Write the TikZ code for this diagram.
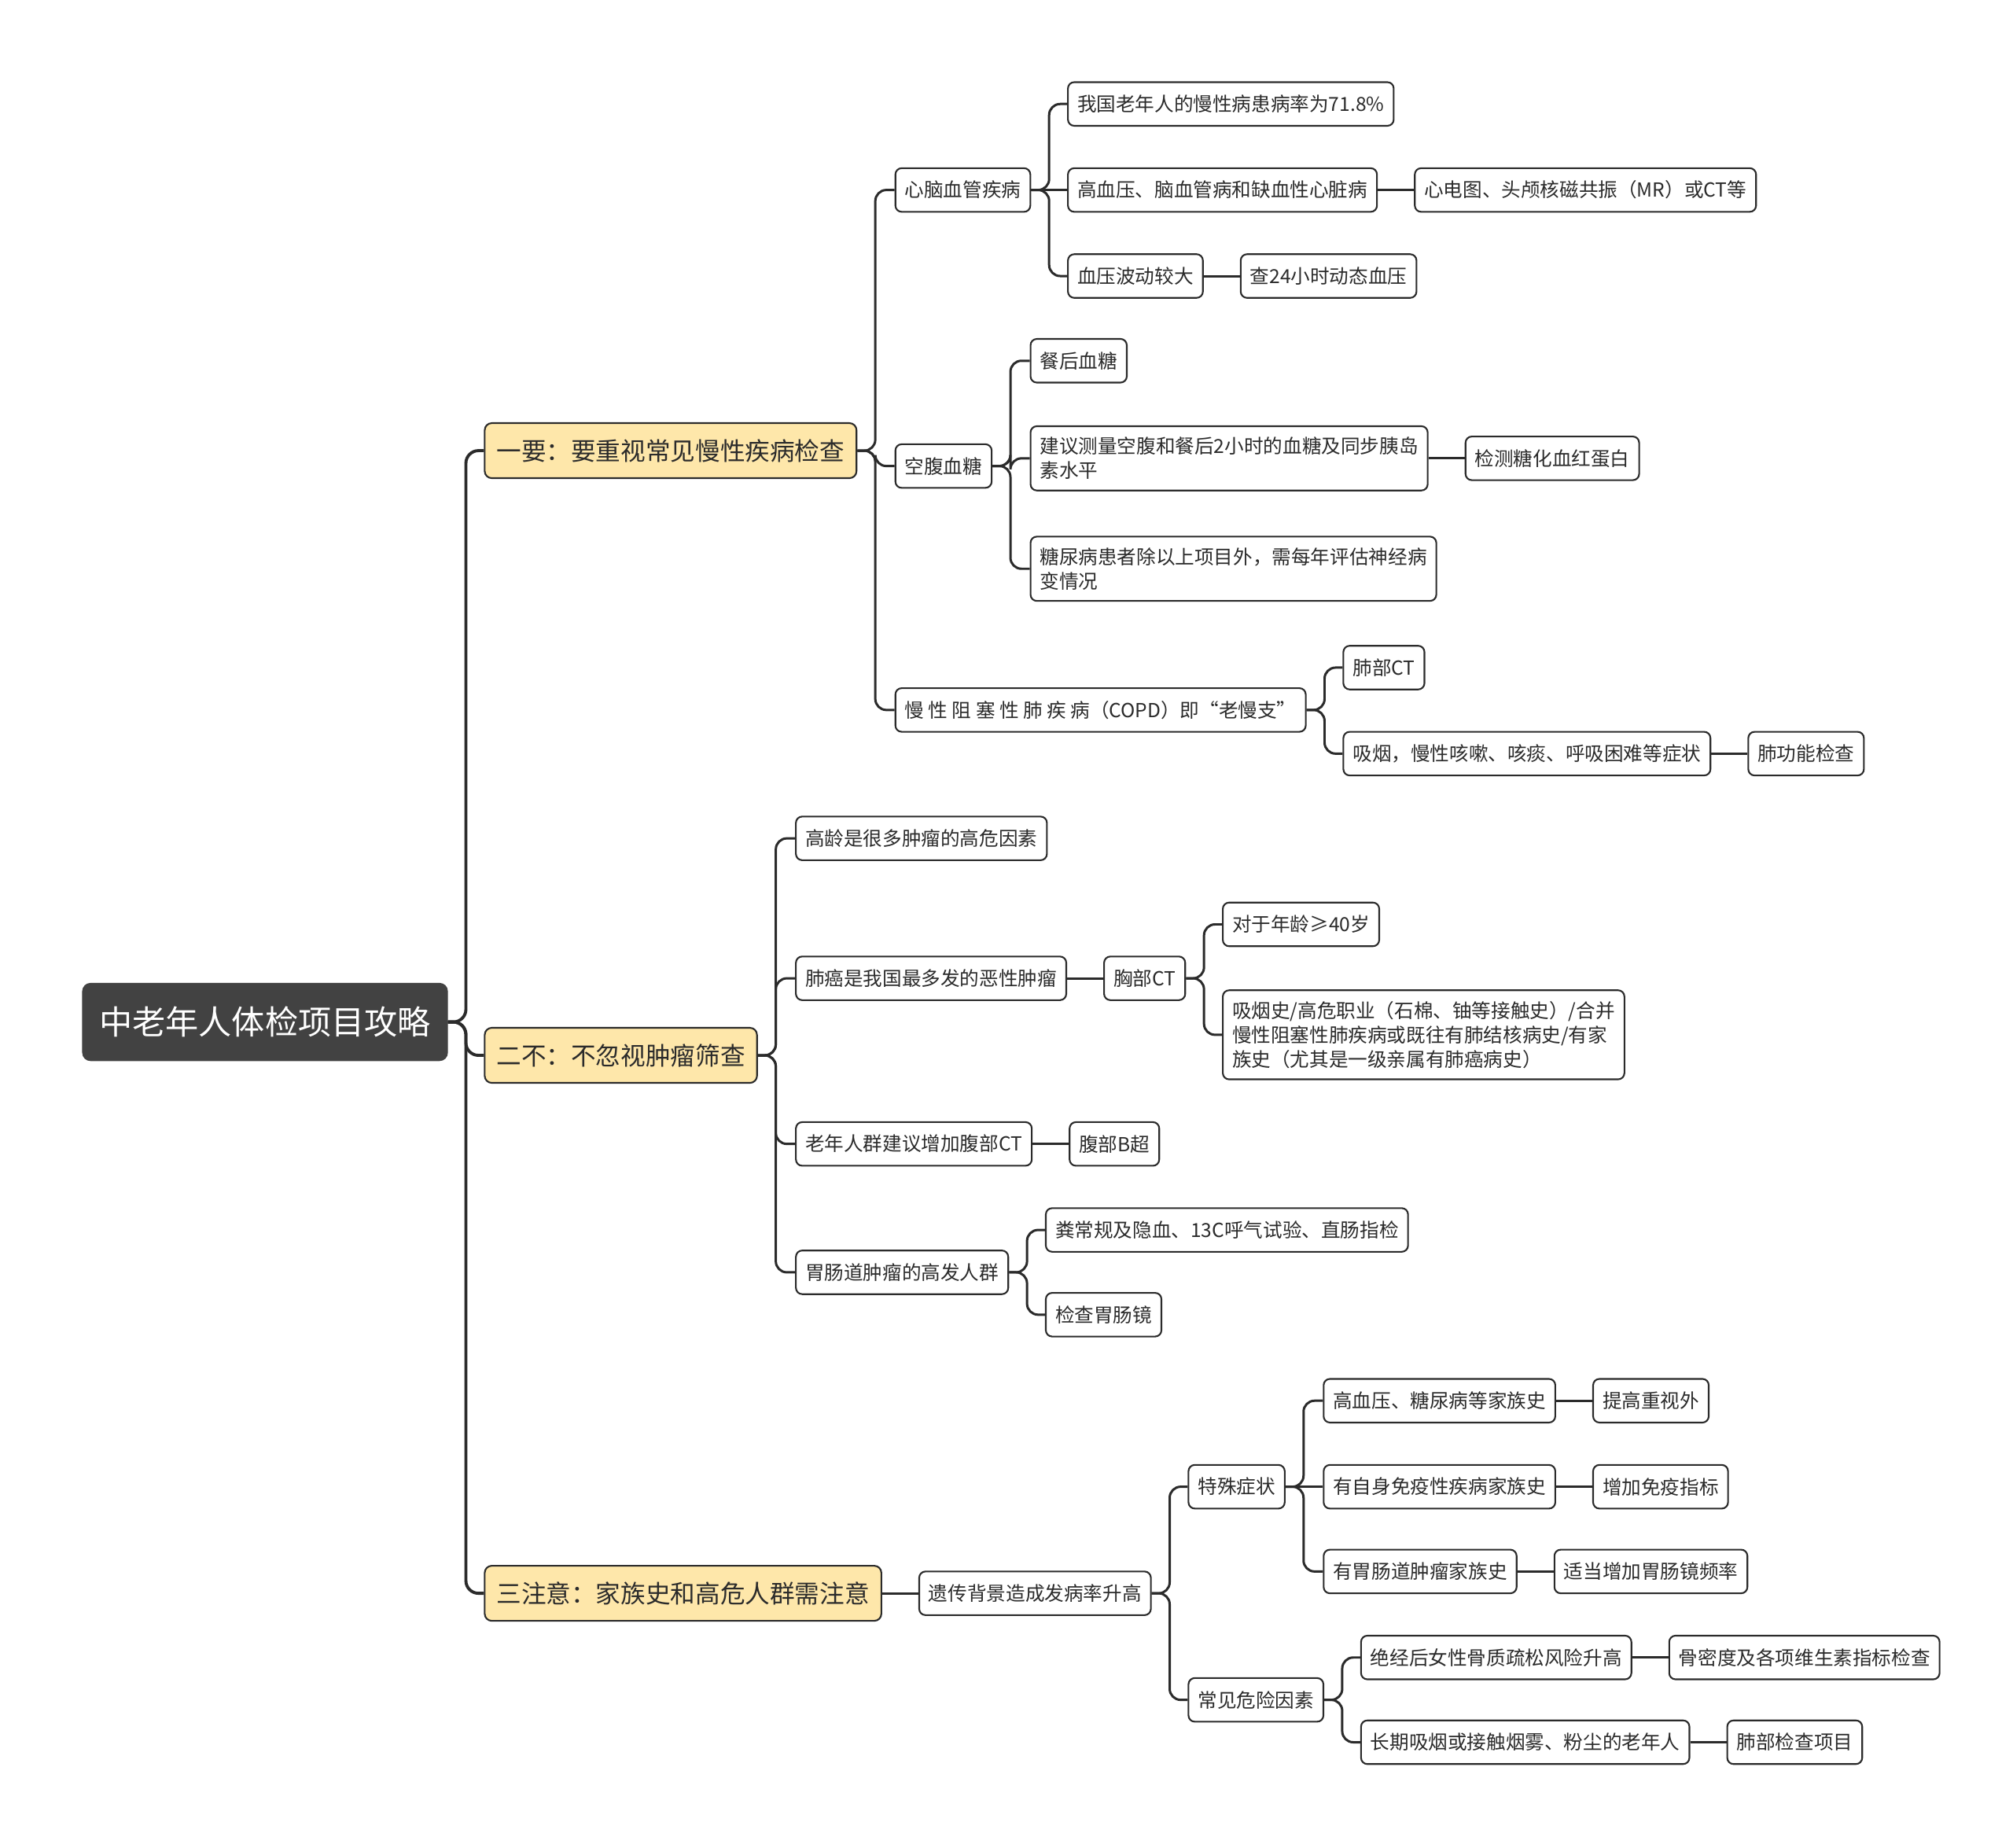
\documentclass[tikz,border=0pt]{standalone}
\usepackage{fontspec}
\setmainfont{Noto Sans CJK SC}
\usepackage{tikz}
\usetikzlibrary{positioning, calc}
\definecolor{ink}{HTML}{2B2B2B}
\definecolor{rootgrey}{HTML}{424242}
\definecolor{topicyellow}{HTML}{FEE7AA}

\begin{document}
\begin{tikzpicture}[
  x=0.016327cm, y=-0.016327cm,
  every node/.style={text=ink},
  rootbox/.style={
    fill=rootgrey,
    draw=rootgrey,
    rounded corners=0.1cm,
    text=white,
    font=\fontsize{12}{14}\selectfont,
    minimum height=0.98cm,
    inner xsep=0.21cm,
    anchor=west,
  },
  topic/.style={
    fill=topicyellow,
    draw=ink,
    line width=0.6pt,
    rounded corners=0.09cm,
    font=\fontsize{9}{11}\selectfont,
    minimum height=0.70cm,
    inner xsep=0.15cm,
    anchor=west,
  },
  item/.style={
    fill=white,
    draw=ink,
    line width=0.6pt,
    rounded corners=0.08cm,
    font=\fontsize{7}{8.8}\selectfont,
    minimum height=0.555cm,
    inner xsep=0.12cm,
    inner ysep=0.14cm,
    align=left,
    anchor=west,
  },
  trunk/.style={
    draw=ink,
    line width=1.1pt,
    rounded corners=0.16cm,
  },
  link/.style={
    draw=ink,
    line width=0.85pt,
    rounded corners=0.14cm,
  },
]
  \useasboundingbox (0,0) rectangle (1568,1439);

  % root and main topics
  \node[rootbox] (root) at (64,796) {中老年人体检项目攻略};
  \node[topic] (k1) at ($(root.east)+(28,-445)$) {一要：要重视常见慢性疾病检查};
  \node[topic] (k2) at ($(root.east)+(28,26)$) {二不：不忽视肿瘤筛查};
  \node[topic] (k3) at ($(root.east)+(28,445)$) {三注意：家族史和高危人群需注意};

  % first topic
  \node[item] (cv) at ($(k1.east)+(29,-203)$) {心脑血管疾病};
  \node[item] (bg) at ($(k1.east)+(29,12)$) {空腹血糖};
  \node[item] (copd) at ($(k1.east)+(29,202)$) {慢 性 阻 塞 性 肺 疾 病（COPD）即“老慢支”};

  \node[item] (cv1) at ($(cv.east)+(28,-67)$) {我国老年人的慢性病患病率为71.8\%};
  \node[item] (cv2) at ($(cv.east)+(28,0)$) {高血压、脑血管病和缺血性心脏病};
  \node[item, right=0.46cm of cv2] (cv2a) {心电图、头颅核磁共振（MR）或CT等};
  \node[item] (cv3) at ($(cv.east)+(28,67)$) {血压波动较大};
  \node[item, right=0.46cm of cv3] (cv3a) {查24小时动态血压};

  \node[item] (bg1) at ($(bg.east)+(29,-82)$) {餐后血糖};
  \node[item] (bg2) at ($(bg.east)+(29,-6)$) {建议测量空腹和餐后2小时的血糖及同步胰岛\\素水平};
  \node[item, right=0.46cm of bg2] (bg2a) {检测糖化血红蛋白};
  \node[item] (bg3) at ($(bg.east)+(29,80)$) {糖尿病患者除以上项目外，需每年评估神经病\\变情况};

  \node[item] (cp1) at ($(copd.east)+(28,-33)$) {肺部CT};
  \node[item] (cp2) at ($(copd.east)+(28,34)$) {吸烟，慢性咳嗽、咳痰、呼吸困难等症状};
  \node[item, right=0.46cm of cp2] (cp2a) {肺功能检查};

  % second topic
  \node[item] (tu1) at ($(k2.east)+(29,-169)$) {高龄是很多肿瘤的高危因素};
  \node[item] (tu2) at ($(k2.east)+(29,-60)$) {肺癌是我国最多发的恶性肿瘤};
  \node[item, right=0.46cm of tu2] (tu2a) {胸部CT};
  \node[item] (tu3) at ($(k2.east)+(29,69)$) {老年人群建议增加腹部CT};
  \node[item, right=0.46cm of tu3] (tu3a) {腹部B超};
  \node[item] (tu4) at ($(k2.east)+(29,169)$) {胃肠道肿瘤的高发人群};

  \node[item] (lc1) at ($(tu2a.east)+(28,-42)$) {对于年龄≥40岁};
  \node[item] (lc2) at ($(tu2a.east)+(28,44)$) {吸烟史/高危职业（石棉、铀等接触史）/合并\\慢性阻塞性肺疾病或既往有肺结核病史/有家\\族史（尤其是一级亲属有肺癌病史）};

  \node[item] (gi1) at ($(tu4.east)+(28,-33)$) {粪常规及隐血、13C呼气试验、直肠指检};
  \node[item] (gi2) at ($(tu4.east)+(28,33)$) {检查胃肠镜};

  % third topic
  \node[item, right=0.46cm of k3] (fh) {遗传背景造成发病率升高};
  \node[item] (sp) at ($(fh.east)+(28,-83)$) {特殊症状};
  \node[item] (rk) at ($(fh.east)+(28,83)$) {常见危险因素};

  \node[item] (sp1) at ($(sp.east)+(29,-67)$) {高血压、糖尿病等家族史};
  \node[item, right=0.46cm of sp1] (sp1a) {提高重视外};
  \node[item] (sp2) at ($(sp.east)+(29,0)$) {有自身免疫性疾病家族史};
  \node[item, right=0.46cm of sp2] (sp2a) {增加免疫指标};
  \node[item] (sp3) at ($(sp.east)+(29,66)$) {有胃肠道肿瘤家族史};
  \node[item, right=0.46cm of sp3] (sp3a) {适当增加胃肠镜频率};

  \node[item] (rk1) at ($(rk.east)+(28,-33)$) {绝经后女性骨质疏松风险升高};
  \node[item, right=0.46cm of rk1] (rk1a) {骨密度及各项维生素指标检查};
  \node[item] (rk2) at ($(rk.east)+(28,33)$) {长期吸烟或接触烟雾、粉尘的老年人};
  \node[item, right=0.46cm of rk2] (rk2a) {肺部检查项目};

  % connectors
  \foreach \c in {k1,k2,k3}
    \draw[trunk] (root.east) -- ++(14,0) |- (\c.west);
  \foreach \c in {cv,bg,copd}
    \draw[link] (k1.east) -- ++(14,0) |- (\c.west);
  \foreach \c in {cv1,cv3}
    \draw[link] (cv.east) -- ++(14,0) |- (\c.west);
  \draw[link] (cv) -- (cv2);
  \foreach \c in {bg1,bg2,bg3}
    \draw[link] (bg.east) -- ++(14,0) |- (\c.west);
  \foreach \c in {cp1,cp2}
    \draw[link] (copd.east) -- ++(14,0) |- (\c.west);
  \foreach \c in {tu1,tu2,tu3,tu4}
    \draw[link] (k2.east) -- ++(14,0) |- (\c.west);
  \foreach \c in {lc1,lc2}
    \draw[link] (tu2a.east) -- ++(14,0) |- (\c.west);
  \foreach \c in {gi1,gi2}
    \draw[link] (tu4.east) -- ++(14,0) |- (\c.west);
  \draw[link] (k3) -- (fh);
  \foreach \c in {sp,rk}
    \draw[link] (fh.east) -- ++(14,0) |- (\c.west);
  \foreach \c in {sp1,sp3}
    \draw[link] (sp.east) -- ++(14,0) |- (\c.west);
  \draw[link] (sp) -- (sp2);
  \foreach \c in {rk1,rk2}
    \draw[link] (rk.east) -- ++(14,0) |- (\c.west);

  \draw[link] (cv2) -- (cv2a);
  \draw[link] (cv3) -- (cv3a);
  \draw[link] (bg2) -- (bg2a);
  \draw[link] (cp2) -- (cp2a);
  \draw[link] (tu2) -- (tu2a);
  \draw[link] (tu3) -- (tu3a);
  \draw[link] (sp1) -- (sp1a);
  \draw[link] (sp2) -- (sp2a);
  \draw[link] (sp3) -- (sp3a);
  \draw[link] (rk1) -- (rk1a);
  \draw[link] (rk2) -- (rk2a);
\end{tikzpicture}
\end{document}
